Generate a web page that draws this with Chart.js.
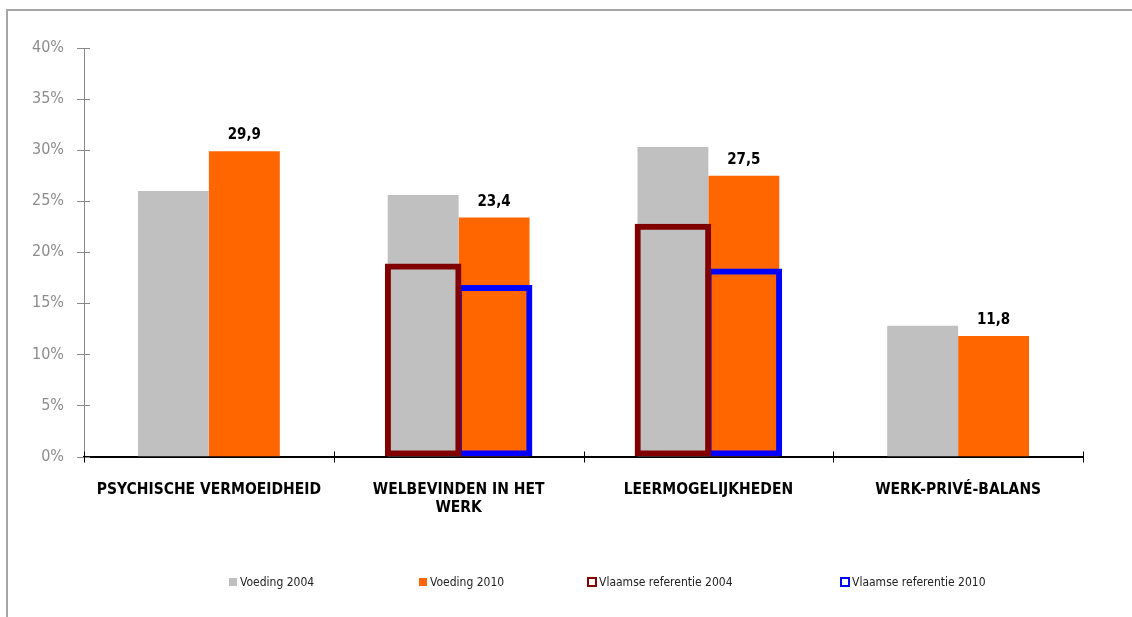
<!DOCTYPE html>
<html>
<head>
<meta charset="utf-8">
<script src="https://cdn.jsdelivr.net/npm/chart.js@4.4.1/dist/chart.umd.min.js"></script>
<style>
    html, body { margin: 0; padding: 0; width: 1132px; height: 617px; overflow: hidden; background: #fff; }
    .frame { position: absolute; left: 6px; top: 9px; width: 1300px; height: 800px; border-top: 2px solid #a6a6a6; border-left: 2px solid #a6a6a6; }
    .wrap { position: absolute; left: 0; top: 0; width: 1132px; height: 617px; }
    .legend {
        position: absolute; left: 229px; top: 575px; margin: 0; padding: 0; list-style: none;
        display: grid; grid-template-columns: 190px 168px 253px auto; align-items: center;
        font: 12px 'DejaVu Sans Condensed', 'Liberation Sans', sans-serif; color: #222;
    }
    .legend li { display: flex; align-items: center; white-space: nowrap; }
    .legend .box { display: inline-block; box-sizing: border-box; width: 8px; height: 8px; margin-right: 3px; }
    .legend .box.rand { width: 10px; height: 10px; border: 2px solid; background: #fff; margin-right: 2px; }
</style>
</head>
<body>
<div class="frame"></div>
<div class="wrap"><canvas id="chart"></canvas></div>
<ul class="legend" id="legend"></ul>
<script>
const CATEGORIES = ['PSYCHISCHE VERMOEIDHEID', ['WELBEVINDEN IN HET', 'WERK'], 'LEERMOGELIJKHEDEN', 'WERK-PRIVÉ-BALANS'];
const VOEDING_2004 = [26.0, 25.6, 30.3, 12.8];
const VOEDING_2010 = [29.9, 23.4, 27.5, 11.8];
const VLAAMS_2004 = [null, 18.9, 22.8, null];
const VLAAMS_2010 = [null, 16.8, 18.4, null];
const Y_TICKS = [0, 5, 10, 15, 20, 25, 30, 35, 40];

const GRIJS = '#C0C0C0';
const ORANJE = '#FF6600';
const DONKERROOD = '#800000';
const BLAUW = '#0000FF';
const FONT = "'DejaVu Sans Condensed', 'Liberation Sans', sans-serif";

// tickjes die dwars over de as lopen (zoals in Excel)
const crossTicks = {
    id: 'crossTicks',
    afterDatasetsDraw(chart) {
        const { ctx, chartArea, scales: { x, y } } = chart;
        ctx.save();
        ctx.lineWidth = 1;
        ctx.strokeStyle = '#888';
        Y_TICKS.forEach((t) => {
            const py = Math.round(y.getPixelForValue(t)) + 0.5;
            ctx.beginPath();
            ctx.moveTo(chartArea.left - 7, py);
            ctx.lineTo(chartArea.left + 6, py);
            ctx.stroke();
        });
        ctx.strokeStyle = '#000';
        const step = (x.right - x.left) / CATEGORIES.length;
        for (let i = 0; i <= CATEGORIES.length; i++) {
            const px = Math.round(x.left + i * step) + 0.5;
            ctx.beginPath();
            ctx.moveTo(px, chartArea.bottom - 5);
            ctx.lineTo(px, chartArea.bottom + 6);
            ctx.stroke();
        }
        ctx.restore();
    },
};

// waardes boven de oranje balken
const valueLabels = {
    id: 'valueLabels',
    afterDatasetsDraw(chart) {
        const { ctx } = chart;
        const meta = chart.getDatasetMeta(1);
        ctx.save();
        ctx.font = `bold 15px ${FONT}`;
        ctx.fillStyle = '#000';
        ctx.textAlign = 'center';
        ctx.textBaseline = 'alphabetic';
        meta.data.forEach((bar, i) => {
            ctx.fillText(VOEDING_2010[i].toFixed(1).replace('.', ','), bar.x, bar.y - 12);
        });
        ctx.restore();
    },
};

// legenda als html, met de ruime tussenafstand van het origineel
const htmlLegend = {
    id: 'htmlLegend',
    afterUpdate(chart) {
        const ul = document.getElementById('legend');
        ul.innerHTML = chart.data.datasets.map((ds, i) => {
            const box = i >= 2
                ? `<span class="box rand" style="border-color:${ds.borderColor}"></span>`
                : `<span class="box" style="background:${ds.backgroundColor}"></span>`;
            return `<li>${box}${ds.label}</li>`;
        }).join('');
    },
};

new Chart(document.getElementById('chart'), {
    type: 'bar',
    data: {
        labels: CATEGORIES,
        datasets: [
            { label: 'Voeding 2004', data: VOEDING_2004, backgroundColor: GRIJS, stack: 'a', order: 1, barPercentage: 1 },
            { label: 'Voeding 2010', data: VOEDING_2010, backgroundColor: ORANJE, stack: 'b', order: 1, barPercentage: 1 },
            {
                label: 'Vlaamse referentie 2004', data: VLAAMS_2004, backgroundColor: 'rgba(0,0,0,0)',
                borderColor: DONKERROOD, borderWidth: 6, borderSkipped: false, stack: 'a', order: 0, barPercentage: 1.08,
            },
            {
                label: 'Vlaamse referentie 2010', data: VLAAMS_2010, backgroundColor: 'rgba(0,0,0,0)',
                borderColor: BLAUW, borderWidth: 6, borderSkipped: false, stack: 'b', order: 0, barPercentage: 1.08,
            },
        ],
    },
    options: {
        responsive: true,
        maintainAspectRatio: false,
        animation: false,
        categoryPercentage: 0.568,
        layout: { padding: { left: 0, right: 49, top: 48, bottom: 100 } },
        plugins: {
            tooltip: { enabled: false },
            legend: { display: false },
        },
        scales: {
            x: {
                stacked: true,
                grid: { display: false, drawTicks: false },
                border: { display: true, color: '#000', width: 2 },
                afterFit: (s) => { s.height = 60.5; },
                ticks: {
                    padding: 24,
                    color: '#000',
                    font: { family: FONT, size: 15.5, weight: 'bold', lineHeight: 1.2 },
                    maxRotation: 0,
                    autoSkip: false,
                },
            },
            y: {
                stacked: false,
                min: 0,
                max: 40,
                afterFit: (s) => { s.width = 84; },
                afterBuildTicks: (s) => { s.ticks = Y_TICKS.map((v) => ({ value: v })); },
                grid: { display: false, drawTicks: false },
                border: { display: true, color: '#888', width: 1 },
                ticks: {
                    padding: 20,
                    color: '#8c8c8c',
                    font: { family: FONT, size: 16 },
                    callback: (v) => `${v}%`,
                },
            },
        },
    },
    plugins: [crossTicks, valueLabels, htmlLegend],
});
</script>
</body>
</html>
